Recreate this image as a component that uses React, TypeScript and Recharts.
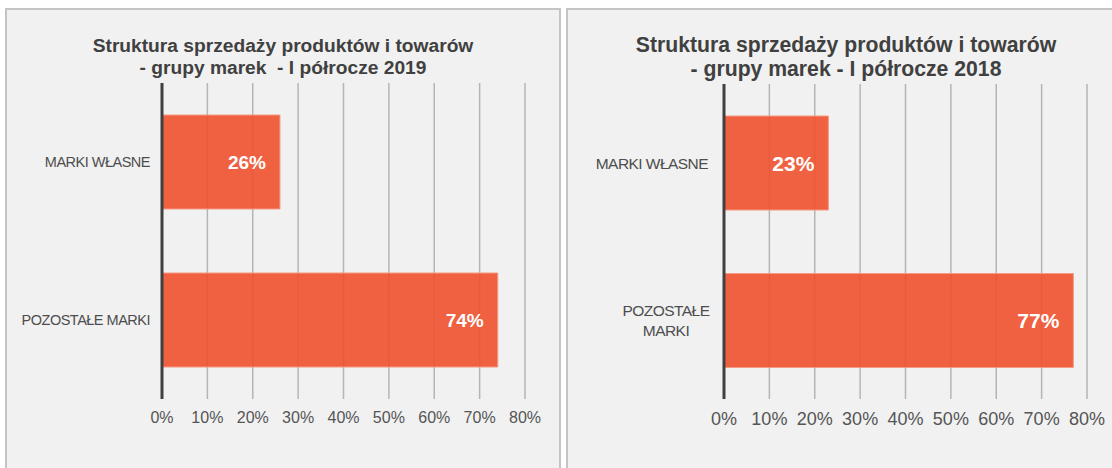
import { BarChart, Bar, XAxis, YAxis, CartesianGrid, LabelList } from "recharts";

const categories = ["MARKI WŁASNE", "POZOSTAŁE MARKI"];
const share2019 = [26, 74];
const share2018 = [23, 77];
const pctTicks = [0, 10, 20, 30, 40, 50, 60, 70, 80];
const title2019 = ["Struktura sprzedaży produktów i towarów", "- grupy marek  - I półrocze 2019"];
const title2018 = ["Struktura sprzedaży produktów i towarów", "- grupy marek - I półrocze 2018"];

const FONT = "'Liberation Sans', Arial, sans-serif";

type PanelCfg = {
  left: number;
  panelW: number;
  chartW: number;
  title: string[];
  titleSize: number;
  titleLead: number;
  titleTop: number;
  values: number[];
  margin: { top: number; right: number; bottom: number; left: number };
  yWidth: number;
  catSize: number;
  catSpacing: number;
  tickSize: number;
  valueSize: number;
  wrap: boolean;
};

function CategoryTick(props: any) {
  const { x, y, payload, fontSize, spacing, wrap, gap } = props;
  const label: string = payload.value;
  const lines = wrap && label.length > 13 ? label.split(" ") : [label];
  const lh = fontSize * 1.3;
  const x0 = lines.length > 1 ? x - gap - 42 : x - gap;
  return (
    <text
      x={x0}
      y={y - ((lines.length - 1) * lh) / 2}
      textAnchor={lines.length > 1 ? "middle" : "end"}
      dominantBaseline="central"
      fill="#4d4d4d"
      fontSize={fontSize}
      letterSpacing={spacing}
      fontFamily={FONT}
    >
      {lines.map((l, i) => (
        <tspan key={i} x={x0} dy={i === 0 ? 0 : lh}>
          {l}
        </tspan>
      ))}
    </text>
  );
}

function Panel({ cfg }: { cfg: PanelCfg }) {
  const data = categories.map((name, i) => ({ name, value: cfg.values[i] }));
  return (
    <>
      <div
        style={{
          position: "absolute",
          left: cfg.left,
          top: 8,
          width: cfg.panelW,
          height: 480,
          border: "2px solid #c4c4c4",
          background: "#f1f1f1",
          boxSizing: "border-box",
        }}
      />
      <div
        style={{
          position: "absolute",
          left: cfg.left,
          top: cfg.titleTop,
          width: cfg.panelW,
          textAlign: "center",
          fontFamily: FONT,
          fontWeight: 700,
          fontSize: cfg.titleSize,
          lineHeight: `${cfg.titleLead}px`,
          color: "#404040",
          whiteSpace: "pre",
        }}
      >
        {cfg.title.map((t, i) => (
          <div key={i}>{t}</div>
        ))}
      </div>
      <div style={{ position: "absolute", left: cfg.left < 100 ? 0 : 560, top: 0 }}>
        <BarChart
          width={cfg.chartW}
          height={468}
          data={data}
          layout="vertical"
          margin={cfg.margin}
          barSize={94}
        >
          <CartesianGrid
            vertical
            horizontal={false}
            stroke="#b5b5b5"
            strokeWidth={1.5}
          />
          <XAxis
            type="number"
            domain={[0, 80]}
            ticks={pctTicks}
            tickFormatter={(v) => `${v}%`}
            axisLine={false}
            tickLine={false}
            height={30}
            tickMargin={7}
            tick={{ fontSize: cfg.tickSize, fill: "#555555", fontFamily: FONT }}
            interval={0}
          />
          <YAxis
            type="category"
            dataKey="name"
            width={cfg.yWidth}
            axisLine={{ stroke: "#404040", strokeWidth: 3 }}
            tickLine={false}
            tick={(p: any) => (
              <CategoryTick
                {...p}
                fontSize={cfg.catSize}
                spacing={cfg.catSpacing}
                wrap={cfg.wrap}
                gap={cfg.wrap ? 8 : 4}
              />
            )}
          />
          <Bar
            dataKey="value"
            fill="#ef512f"
            fillOpacity={0.9}
            stroke="#f59a84"
            strokeWidth={1}
            isAnimationActive={false}
          >
            <LabelList
              dataKey="value"
              content={(p: any) => (
                <text
                  x={p.x + p.width - 14}
                  y={p.y + p.height / 2}
                  textAnchor="end"
                  dominantBaseline="central"
                  fill="#ffffff"
                  fontWeight={700}
                  fontSize={cfg.valueSize}
                  fontFamily={FONT}
                >
                  {`${p.value}%`}
                </text>
              )}
            />
          </Bar>
        </BarChart>
      </div>
    </>
  );
}

const left: PanelCfg = {
  left: 5,
  panelW: 556,
  chartW: 560,
  title: title2019,
  titleSize: 19.2,
  titleLead: 21.5,
  titleTop: 35,
  values: share2019,
  margin: { top: 83, right: 35, bottom: 39, left: 0 },
  yWidth: 162,
  catSize: 14.5,
  catSpacing: -0.5,
  tickSize: 16,
  valueSize: 19,
  wrap: false,
};

const right: PanelCfg = {
  left: 566,
  panelW: 560,
  chartW: 552,
  title: title2018,
  titleSize: 21.2,
  titleLead: 24,
  titleTop: 33,
  values: share2018,
  margin: { top: 84, right: 25, bottom: 39, left: 0 },
  yWidth: 164,
  catSize: 15.5,
  catSpacing: -0.55,
  tickSize: 18,
  valueSize: 21,
  wrap: true,
};

export default function App() {
  return (
    <div
      style={{
        position: "absolute",
        left: 0,
        top: 0,
        width: 1112,
        height: 468,
        overflow: "hidden",
        background: "#ffffff",
      }}
    >
      <Panel cfg={left} />
      <Panel cfg={right} />
    </div>
  );
}
